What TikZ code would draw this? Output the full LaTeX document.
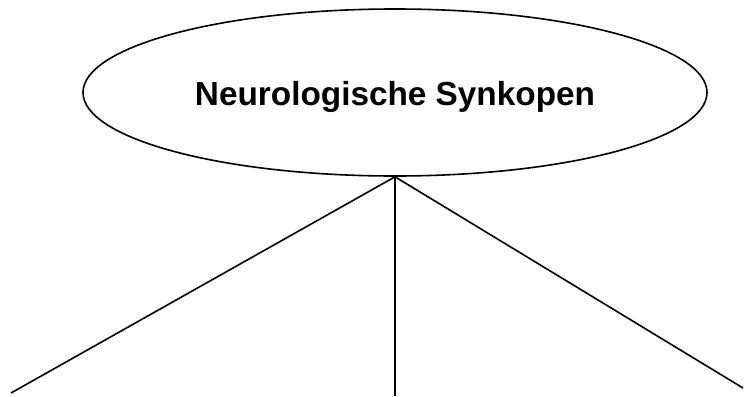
\documentclass[tikz,border=0pt]{standalone}
\usepackage{fontspec}
\setmainfont{Liberation Sans}
\usetikzlibrary{shapes.geometric}
\begin{document}
\begin{tikzpicture}[x=0.75pt,y=-0.75pt,
  conn/.style={line width=1.2pt},
  topnode/.style={ellipse,draw,line width=1.2pt,minimum width=624*0.75pt,minimum height=167*0.75pt,inner sep=0pt},
  titletext/.style={anchor=base,inner sep=0pt,font=\bfseries\fontsize{25pt}{30pt}\selectfont}]
\useasboundingbox (0,0) rectangle (745,396);
\node[topnode] (top) at (395,92.5) {};
\node[titletext] (title) at (395,105) {Neurologische Synkopen};
\coordinate (l) at (11,393);
\coordinate (m) at (395,396);
\coordinate (r) at (743,388);
\draw[conn] (top.south) -- (l);
\draw[conn] (top.south) -- (m);
\draw[conn] (top.south) -- (r);
\end{tikzpicture}
\end{document}
